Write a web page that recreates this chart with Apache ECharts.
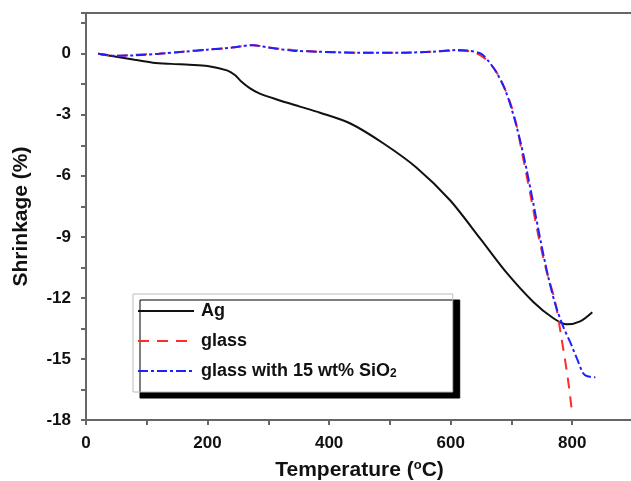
<!DOCTYPE html>
<html>
<head>
<meta charset="utf-8">
<script src="https://cdn.jsdelivr.net/npm/echarts@6/dist/echarts.min.js"></script>
<style>html,body{margin:0;padding:0;background:#fff}#c{width:631px;height:481px}</style>
</head>
<body>
<div id="c"></div>
<script>
const agT = [20,50,80,110,140,170,200,232,245,255,270,286,314,352,385,435,489,544,599,649,693,736,769,791,813,833];
const agS = [0,-0.15,-0.3,-0.44,-0.5,-0.54,-0.6,-0.82,-1.05,-1.35,-1.7,-1.96,-2.25,-2.6,-2.9,-3.43,-4.4,-5.6,-7.2,-9.1,-10.8,-12.2,-13.0,-13.3,-13.15,-12.7];

const glassT = [20,50,80,120,160,200,240,275,300,340,380,450,520,570,600,620,640,654,668,681,698,709,717,731,744,757,772,783,793,800];
const glassS = [0,-0.1,-0.05,0,0.1,0.2,0.3,0.42,0.3,0.18,0.1,0.05,0.05,0.1,0.15,0.15,0.05,-0.18,-0.6,-1.2,-2.4,-3.6,-4.8,-6.9,-8.9,-10.6,-12.2,-14.1,-16.0,-17.7];

const sioT = [20,50,80,120,160,200,240,275,300,340,380,450,520,570,610,630,650,663,675,690,705,720,735,748,760,772,785,797,808,818,825,838];
const sioS = [0,-0.1,-0.08,0,0.1,0.2,0.3,0.42,0.3,0.15,0.1,0.05,0.05,0.1,0.18,0.15,0,-0.4,-0.9,-1.8,-3.2,-5.0,-7.2,-9.2,-10.9,-12.3,-13.4,-14.2,-15.0,-15.7,-15.85,-15.9];

const seriesNames = ['Ag', 'glass', 'glass with 15 wt% SiO2'];
const xTickLabels = [0, 200, 400, 600, 800];
const yTickLabels = [-18, -15, -12, -9, -6, -3, 0];

const zip = (a, b) => a.map((v, i) => [v, b[i]]);
const FONT = 'Liberation Sans, Arial, sans-serif';

const chart = echarts.init(document.getElementById('c'), null, {renderer: 'canvas'});
chart.setOption({
  animation: false,
  backgroundColor: '#fff',
  grid: {left: 86, top: 13, width: 547, height: 407, show: true, borderColor: '#666', borderWidth: 2,
    containLabel: false, outerBoundsMode: 'none'},
  xAxis: {
    type: 'value', min: 0, max: 900, interval: 100,
    name: 'Temperature ({sup|o}C)', nameLocation: 'middle', nameGap: 39,
    nameTextStyle: {fontFamily: FONT, fontWeight: 'bold', fontSize: 21, color: '#111',
      rich: {sup: {fontFamily: FONT, fontWeight: 'bold', fontSize: 13, color: '#111', verticalAlign: 'top', padding: [0,0,9,0]}}},
    axisLine: {show: true, onZero: false, lineStyle: {color: '#666', width: 2}},
    axisTick: {show: true, length: 5, inside: false, lineStyle: {color: '#666', width: 2}},
    axisLabel: {margin: 15, fontFamily: FONT, fontWeight: 'bold', fontSize: 17, color: '#111',
      formatter: v => xTickLabels.includes(v) ? String(v) : ''},
    splitLine: {show: false}
  },
  yAxis: {
    type: 'value', min: -18, max: 2, interval: 1.5,
    name: 'Shrinkage (%)', nameLocation: 'middle', nameGap: 54,
    nameTextStyle: {fontFamily: FONT, fontWeight: 'bold', fontSize: 21, color: '#111'},
    axisLine: {show: true, onZero: false, lineStyle: {color: '#666', width: 2}},
    axisTick: {show: true, length: 5, inside: false, lineStyle: {color: '#666', width: 2}},
    axisLabel: {margin: 15, fontFamily: FONT, fontWeight: 'bold', fontSize: 17, color: '#111',
      formatter: v => yTickLabels.includes(v) ? String(v) : ''},
    splitLine: {show: false}
  },
  legend: {
    orient: 'vertical', left: 133, top: 294,
    data: seriesNames,
    itemWidth: 56, itemHeight: 14, itemGap: 12,
    padding: [8, 56, 12, 4],
    backgroundColor: '#fff', borderColor: '#bbb', borderWidth: 1,
    shadowColor: '#000', shadowBlur: 0, shadowOffsetX: 7, shadowOffsetY: 6,
    itemStyle: {opacity: 0},
    textStyle: {fontFamily: FONT, fontWeight: 'bold', fontSize: 18, color: '#111', lineHeight: 18, padding: [0,0,0,2],
      rich: {sub: {fontFamily: FONT, fontWeight: 'bold', fontSize: 12, color: '#111', verticalAlign: 'bottom', padding: [9,0,0,0]}}},
    formatter: n => n === 'glass with 15 wt% SiO2' ? 'glass with 15 wt% SiO{sub|2}' : n
  },
  series: [
    {name: seriesNames[0], type: 'line', data: zip(agT, agS), showSymbol: false, symbol: 'none', smooth: 0.3,
      lineStyle: {color: '#111', width: 2}, itemStyle: {color: '#111'}},
    {name: seriesNames[1], type: 'line', data: zip(glassT, glassS), showSymbol: false, symbol: 'none', smooth: 0.3,
      lineStyle: {color: '#ff2a2a', width: 2, type: [11, 8]}, itemStyle: {color: '#ff2a2a'}},
    {name: seriesNames[2], type: 'line', data: zip(sioT, sioS), showSymbol: false, symbol: 'none', smooth: 0.3,
      lineStyle: {color: '#2020ff', width: 2, type: [10, 3, 3, 3]}, itemStyle: {color: '#2020ff'}}
  ]
});
</script>
</body>
</html>
